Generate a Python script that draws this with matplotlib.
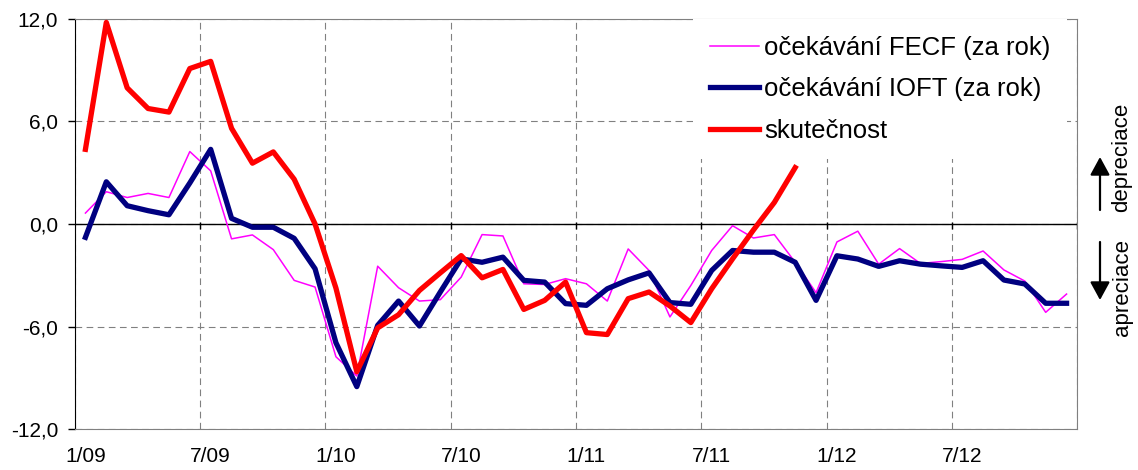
import numpy as np
import matplotlib
matplotlib.use("Agg")
import matplotlib.pyplot as plt

plt.rcParams["font.family"] = ["Liberation Sans", "DejaVu Sans"]

# monthly observations 1/2009 - 12/2012
months = [f"{m}/{y:02d}" for y in range(9, 13) for m in range(1, 13)]

fecf = [0.64, 1.89, 1.55, 1.79, 1.55, 4.24, 3.11, -0.87, -0.64, -1.5, -3.3, -3.69,
        -7.77, -8.9, -2.47, -3.73, -4.51, -4.43, -3.11, -0.62, -0.70, -3.5, -3.54, -3.2,
        -3.5, -4.51, -1.46, -2.72, -5.44, -3.6, -1.55, -0.1, -0.82, -0.62, -2.24, -4.02,
        -1.05, -0.42, -2.35, -1.44, -2.31, -2.2, -2.07, -1.58, -2.69, -3.34, -5.17, -4.1]

ioft = [-0.78, 2.47, 1.07, 0.78, 0.54, 2.4, 4.37, 0.33, -0.19, -0.19, -0.84, -2.62,
        -6.95, -9.52, -5.93, -4.51, -5.97, -3.98, -2.04, -2.24, -1.94, -3.3, -3.4, -4.66,
        -4.76, -3.79, -3.27, -2.86, -4.6, -4.7, -2.72, -1.55, -1.65, -1.65, -2.24, -4.47,
        -1.86, -2.05, -2.48, -2.15, -2.35, -2.45, -2.54, -2.15, -3.28, -3.51, -4.64, -4.64]

actual = [4.37, 11.8, 7.97, 6.76, 6.55, 9.1, 9.52, 5.6, 3.56, 4.22, 2.62, 0.0,
          -3.75, -8.65, -6.08, -5.31, -3.89, -2.86, -1.85, -3.15, -2.66, -5.0, -4.47, -3.4,
          -6.36, -6.47, -4.37, -3.98, -4.8, -5.77, -3.79, -2.04, -0.35, 1.26, 3.3]

yticks = [-12, -6, 0, 6, 12]
ytick_labels = ["-12,0", "-6,0", "0,0", "6,0", "12,0"]

x = np.arange(len(months))

fig = plt.figure(figsize=(11.38, 4.70), dpi=100)
ax = fig.add_axes([0.0659, 0.0872, 0.8805, 0.8724])

ax.plot(x, fecf, color="#FF00FF", lw=1.1, zorder=3, label="očekávání FECF (za rok)")
ax.plot(x, ioft, color="#000080", lw=3.8, zorder=4, label="očekávání IOFT (za rok)")
ax.plot(np.arange(len(actual)), actual, color="#FF0000", lw=3.8, zorder=5,
        label="skutečnost")

ax.set_xlim(-0.5, len(months) - 0.5)
ax.set_ylim(-12, 12)

# gridlines on category boundaries, labels on category centres
bounds = np.arange(-0.5, len(months), 6)
ax.set_xticks(bounds)
ax.set_xticklabels([])
ax.tick_params(axis="x", which="major", length=0)
ax.set_xticks(x[::6], minor=True)
ax.set_xticklabels(months[::6], minor=True, fontsize=15)
ax.tick_params(axis="x", which="minor", length=0, pad=13)

ax.set_yticks(yticks)
ax.set_yticklabels(ytick_labels, fontsize=15)
ax.tick_params(axis="y", length=5, width=1, pad=7, direction="out")

ax.grid(True, color="#808080", lw=0.8, linestyle=(0, (6, 4)), zorder=0)
ax.set_axisbelow(True)

ax.axhline(0, color="black", lw=1.0, zorder=2)
ax.vlines(bounds[1:], -0.3, 0.1, color="black", lw=1.0, zorder=2)

for side in ["top", "right", "bottom"]:
    ax.spines[side].set_color("#808080")
ax.spines["left"].set_color("black")

leg = ax.legend(loc="upper left", bbox_to_anchor=(0.617, 1.0), borderaxespad=0,
                fontsize=18.5, handlelength=1.9, handletextpad=0.2, labelspacing=0.68,
                frameon=True, fancybox=False, framealpha=1, borderpad=0.65)
leg.get_frame().set_edgecolor("white")
leg.get_frame().set_linewidth(0)
leg.set_zorder(6)

# direction of exchange rate movement
fig.text(1122 / 1138, 1 - 157 / 470, "depreciace", rotation=90, fontsize=16,
         ha="center", va="center")
fig.text(1122 / 1138, 1 - 287 / 470, "apreciace", rotation=90, fontsize=16,
         ha="center", va="center")
arrow = dict(arrowstyle="-|>,head_length=1.1,head_width=0.6", color="black",
             lw=1.6, shrinkA=0, shrinkB=0)
ax.annotate("", xy=(1100 / 1138, 1 - 157 / 470), xytext=(1100 / 1138, 1 - 210 / 470),
            xycoords="figure fraction", textcoords="figure fraction",
            arrowprops=arrow, annotation_clip=False)
ax.annotate("", xy=(1100 / 1138, 1 - 300 / 470), xytext=(1100 / 1138, 1 - 242 / 470),
            xycoords="figure fraction", textcoords="figure fraction",
            arrowprops=arrow, annotation_clip=False)

fig.savefig("out.png", dpi=100)
